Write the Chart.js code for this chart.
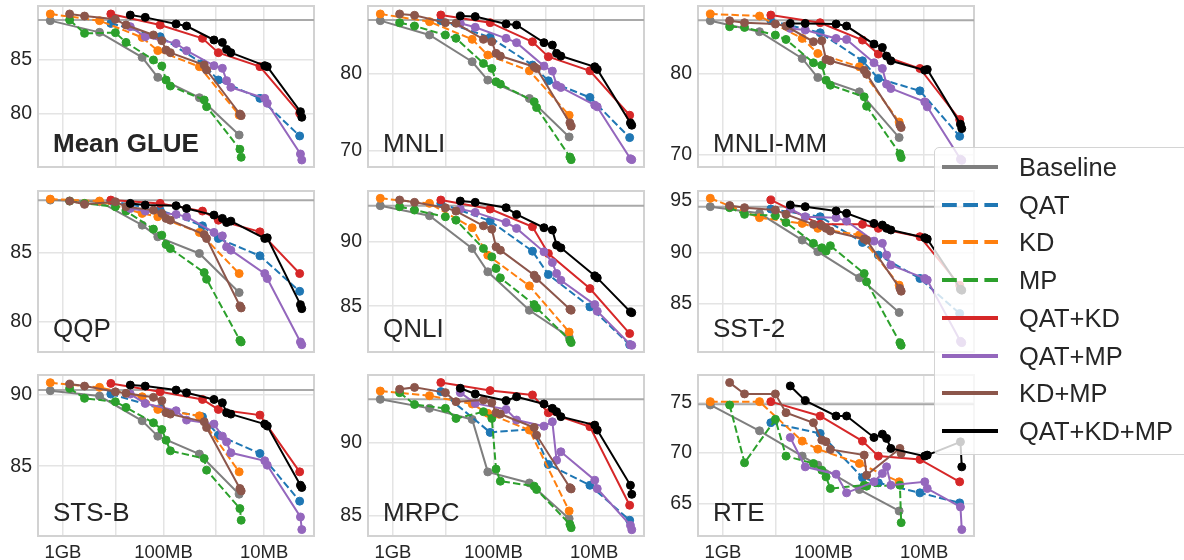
<!DOCTYPE html>
<html>
<head>
<meta charset="utf-8">
<script src="https://cdn.jsdelivr.net/npm/chart.js@4.4.1/dist/chart.umd.min.js"></script>
<style>
html,body{margin:0;padding:0;background:#fff;}
body{width:1184px;height:560px;overflow:hidden;position:relative;font-family:'Liberation Sans',Arial,sans-serif;}
.panel{position:absolute;}
#legend{position:absolute;left:934px;top:147px;width:280px;height:308px;box-sizing:border-box;border:1px solid #d4d4d4;border-radius:5px;background:rgba(255,255,255,0.8);}
.litem{position:absolute;left:0;height:30px;width:270px;}
.litem svg{position:absolute;left:7px;top:0;}
.litem span{position:absolute;left:84px;top:0;line-height:30px;font-size:25.5px;color:#262626;white-space:nowrap;font-family:'Liberation Sans',Arial,sans-serif;}
</style>
</head>
<body>
<div id="legend"></div>
<script>
// ---------------- data ----------------
const tasks = ['Mean GLUE','MNLI','MNLI-MM','QQP','QNLI','SST-2','STS-B','MRPC','RTE'];
const seriesNames = ['Baseline','QAT','KD','MP','QAT+KD','QAT+MP','KD+MP','QAT+KD+MP'];

// model sizes in MB
const xBaseline = [1336, 433, 163, 114, 44, 17.7];
const xQAT      = [334, 108, 41, 28.5, 11, 4.43];
const xKD       = [1336, 433, 163, 114, 44, 17.7];
const xMP       = [858, 610, 301, 236, 126, 104, 94.4, 85.5, 39.4, 37.3, 17.4, 16.9];
const xQATKD    = [334, 108, 41, 28.5, 11, 4.43];
const xQATMP    = [214, 152, 75, 59, 31.5, 26, 23.6, 21.4, 9.85, 9.3, 4.35, 4.22];
const xKDMP     = [858, 610, 301, 236, 126, 104, 94.4, 85.5, 39.4, 37.3, 17.4, 16.9];
const xQATKDMP  = [214, 152, 75, 59, 31.5, 26, 23.6, 21.4, 9.85, 9.3, 4.35, 4.22];

// full-model reference score per task
const refScores = [88.6, 86.9, 86.6, 88.8, 92.8, 94.45, 90.35, 92.96, 74.8];

// scores, one row per task (same order as tasks)
const baselineScores = [
  [88.54, 87.47, 85.18, 83.35, 81.49, 78.08],
  [86.81, 84.96, 81.51, 79.14, 76.77, 71.81],
  [86.53, 85.17, 81.86, 79.5, 77.73, 72.07],
  [88.81, 88.69, 86.99, 86.14, 84.93, 82.09],
  [92.8, 92.02, 89.48, 87.67, 84.69, 82.62],
  [94.45, 93.8, 91.2, 90.07, 87.53, 84.16],
  [90.31, 89.93, 88.19, 87.11, 85.85, 83.03],
  [92.96, 92.34, 91.58, 87.98, 87.22, 84.77],
  [74.74, 72.19, 69.69, 68.8, 66.39, 64.27]
];
const qatScores = [
  [88.29, 87.07, 84.63, 83.11, 81.43, 77.99],
  [86.81, 84.66, 81.08, 79.05, 76.9, 71.72],
  [86.53, 85.04, 81.57, 79.38, 77.85, 72.23],
  [88.74, 88.08, 86.94, 86.02, 84.76, 82.18],
  [92.98, 91.61, 89.27, 87.46, 84.95, 82.02],
  [94.22, 93.47, 90.97, 89.74, 87.47, 84.06],
  [90.07, 89.06, 88.47, 87.18, 85.89, 82.54],
  [93.49, 90.69, 90.92, 88.49, 87.06, 84.66],
  [72.99, 71.93, 67.57, 67.05, 66.06, 65.07]
];
const kdScores = [
  [89.15, 88.54, 87.0, 85.8, 84.33, 79.9],
  [87.67, 86.68, 84.4, 82.37, 80.34, 74.61],
  [87.36, 87.11, 84.34, 82.48, 80.83, 74.0],
  [88.88, 88.74, 87.84, 87.6, 86.46, 83.47],
  [93.37, 92.98, 91.09, 88.96, 86.58, 83.0],
  [95.26, 93.38, 92.82, 92.34, 91.69, 86.82],
  [90.87, 90.54, 89.88, 88.99, 88.54, 84.6],
  [93.53, 93.21, 92.64, 92.0, 90.85, 85.3],
  [75.07, 75.07, 71.17, 70.38, 68.96, 67.15]
];
const mpScores = [
  [88.6, 87.38, 87.44, 86.55, 84.94, 84.39, 83.11, 82.56, 81.28, 80.67, 76.77, 76.04],
  [86.55, 86.12, 84.96, 84.53, 81.29, 80.65, 78.92, 78.62, 76.34, 75.6, 69.22, 68.88],
  [85.79, 85.7, 84.75, 84.21, 81.32, 81.03, 79.17, 78.55, 77.11, 75.95, 70.08, 69.59],
  [88.74, 88.57, 88.33, 88.01, 86.7, 86.26, 85.58, 85.29, 83.54, 83.06, 78.62, 78.5],
  [92.72, 92.46, 91.94, 91.68, 89.48, 88.83, 87.93, 87.2, 85.13, 84.87, 82.36, 82.18],
  [94.35, 93.7, 93.57, 92.92, 90.88, 90.45, 90.13, 90.65, 87.95, 87.14, 81.23, 80.97],
  [90.47, 89.77, 89.53, 89.13, 88.05, 87.58, 86.83, 86.08, 85.54, 84.72, 82.02, 81.2],
  [93.42, 92.61, 92.34, 91.65, 92.11, 91.65, 88.17, 87.34, 87.0, 86.77, 84.38, 84.15],
  [74.74, 69.03, 73.32, 69.69, 68.96, 68.3, 67.64, 66.49, 66.82, 66.72, 66.82, 63.12]
];
const qatKdScores = [
  [89.15, 88.14, 86.92, 85.61, 84.33, 80.06],
  [87.54, 86.55, 84.09, 82.16, 80.34, 74.61],
  [87.23, 86.28, 84.13, 82.4, 80.62, 74.3],
  [88.81, 88.57, 88.01, 87.35, 86.5, 83.47],
  [93.24, 92.54, 91.17, 89.09, 86.37, 82.88],
  [95.1, 92.73, 92.73, 92.34, 91.53, 86.8],
  [90.82, 90.23, 89.69, 88.99, 88.59, 84.6],
  [94.11, 93.56, 93.26, 92.04, 91.08, 85.69],
  [75.07, 73.65, 71.17, 69.69, 69.36, 67.15]
];
const qatMpScores = [
  [87.99, 87.07, 86.46, 85.79, 84.42, 84.18, 83.05, 82.44, 81.43, 80.98, 76.34, 75.79],
  [86.47, 85.95, 84.53, 83.97, 80.95, 80.3, 78.49, 78.19, 75.91, 75.69, 69.0, 68.88],
  [85.58, 85.37, 84.34, 84.21, 81.32, 80.62, 78.68, 78.14, 76.49, 75.87, 69.4, 69.26],
  [88.2, 88.01, 87.77, 87.6, 86.46, 86.21, 85.41, 85.17, 83.47, 83.11, 78.5, 78.3],
  [92.54, 92.28, 91.5, 91.04, 89.22, 88.39, 87.54, 87.02, 85.13, 84.61, 82.02, 81.97],
  [94.22, 93.47, 93.38, 93.05, 91.1, 90.88, 89.74, 88.77, 87.47, 87.31, 81.36, 81.23],
  [90.07, 89.41, 88.9, 88.24, 87.96, 87.11, 86.71, 85.94, 85.38, 85.07, 81.43, 80.54],
  [93.42, 92.68, 92.27, 91.54, 91.12, 91.42, 88.78, 89.36, 87.41, 86.83, 84.31, 84.01],
  [71.53, 68.63, 67.9, 66.06, 67.15, 67.97, 68.63, 66.82, 67.15, 66.49, 64.67, 62.43]
];
const kdMpScores = [
  [89.15, 88.96, 88.66, 88.14, 87.23, 86.71, 85.85, 85.61, 84.48, 84.02, 80.0, 79.85],
  [87.67, 87.5, 86.55, 86.47, 84.4, 84.09, 82.59, 82.24, 80.86, 80.65, 73.62, 73.19],
  [86.53, 86.28, 86.12, 85.87, 83.93, 84.05, 81.74, 81.57, 80.41, 79.92, 73.6, 73.31],
  [88.74, 88.5, 88.69, 88.33, 88.08, 87.84, 87.48, 87.35, 86.31, 86.02, 81.12, 80.97],
  [93.24, 93.06, 92.64, 92.38, 91.24, 90.98, 89.61, 89.35, 87.41, 87.15, 84.77, 84.69],
  [94.55, 94.35, 94.12, 93.7, 92.73, 92.6, 92.34, 92.08, 91.3, 91.2, 86.5, 86.23],
  [90.77, 90.63, 90.23, 90.12, 89.84, 89.6, 88.76, 88.66, 88.12, 87.72, 83.43, 83.26],
  [93.65, 93.78, 93.42, 92.8, 92.91, 92.73, 92.04, 91.95, 91.03, 90.5, 86.9, 86.81],
  [76.95, 75.83, 75.83, 73.98, 72.99, 71.27, 71.11, 70.35, 69.79, 67.81, 70.45, 69.95]
];
const qatKdMpScores = [
  [89.05, 88.84, 88.23, 88.05, 86.77, 86.55, 85.91, 85.61, 84.42, 84.33, 80.21, 79.7],
  [87.41, 87.33, 86.38, 86.25, 83.97, 83.66, 82.59, 82.24, 80.86, 80.52, 73.62, 73.32],
  [86.2, 86.2, 86.12, 85.87, 83.64, 83.22, 82.15, 81.57, 80.41, 80.5, 73.72, 73.18],
  [88.57, 88.45, 88.4, 88.2, 87.72, 87.48, 87.18, 87.28, 86.02, 86.07, 81.21, 80.92],
  [93.16, 93.06, 92.64, 92.12, 91.09, 90.91, 89.74, 89.53, 87.36, 87.2, 84.56, 84.5],
  [94.61, 94.45, 94.03, 93.8, 92.82, 92.66, 92.34, 92.18, 91.43, 91.3, 86.43, 86.33],
  [90.7, 90.63, 90.35, 90.16, 89.69, 89.46, 88.76, 88.66, 87.96, 87.82, 83.66, 83.5],
  [93.72, 93.33, 92.87, 93.14, 92.64, 92.34, 92.11, 91.77, 91.19, 90.85, 87.06, 86.44],
  [76.62, 75.17, 73.65, 73.65, 71.53, 71.86, 71.44, 70.45, 69.69, 69.79, 71.1, 68.63]
];

// tick values
const xTickValues = [1000, 300, 100, 30, 10];
const xTickLabels = ['1GB', '', '100MB', '', '10MB'];
const yTickValues = [
  [80, 85], [70, 80], [70, 80], [80, 85], [85, 90], [85, 90, 95], [85, 90], [85, 90], [65, 70, 75]
];

// ---------------- styling / layout ----------------
const yRanges = [
  [75.15, 89.88], [67.93, 88.7], [68.43, 88.35], [77.77, 89.47], [81.45, 93.94],
  [80.32, 95.97], [80.09, 91.41], [83.58, 94.63], [61.8, 77.7]
];
const X_MIN = 3.19, X_MAX = 1770;
const seriesX = [xBaseline, xQAT, xKD, xMP, xQATKD, xQATMP, xKDMP, xQATKDMP];
const seriesY = [baselineScores, qatScores, kdScores, mpScores, qatKdScores, qatMpScores, kdMpScores, qatKdMpScores];
const seriesColor = ['#7f7f7f', '#1f77b4', '#ff7f0e', '#2ca02c', '#d62728', '#9467bd', '#8c564b', '#000000'];
const seriesDashed = [false, true, true, true, false, false, false, false];

const PLOT_W = 277, PLOT_H = 161, Y_AXIS_W = 38, X_AXIS_H = 30, PAD_TOP = 6, PAD_RIGHT = 4;
const colLeft = [38, 368, 698];
const rowTop = [6, 191, 375];
const TEXT = '#262626';
const FONT = "'Liberation Sans', Arial, sans-serif";

Chart.defaults.font.family = FONT;

const framePlugin = {
  id: 'frame',
  beforeDatasetsDraw(chart) {
    const a = chart.chartArea, ctx = chart.ctx;
    ctx.save();
    ctx.strokeStyle = '#d2d2d2';
    ctx.lineWidth = 2;
    ctx.strokeRect(a.left, a.top, a.right - a.left, a.bottom - a.top);
    ctx.restore();
  }
};
const titlePlugin = {
  id: 'panelTitle',
  afterDatasetsDraw(chart, args, opts) {
    const a = chart.chartArea, ctx = chart.ctx;
    ctx.save();
    ctx.font = (opts.bold ? 'bold ' : '') + '26px ' + FONT;
    ctx.fillStyle = TEXT;
    ctx.textBaseline = 'alphabetic';
    ctx.textAlign = 'left';
    ctx.fillText(opts.text, a.left + 15, a.bottom - 15.5);
    ctx.restore();
  }
};

function buildPanel(t) {
  const col = t % 3, row = Math.floor(t / 3);
  const canvas = document.createElement('canvas');
  const cw = Y_AXIS_W + PLOT_W + PAD_RIGHT, ch = PAD_TOP + PLOT_H + X_AXIS_H;
  canvas.width = cw; canvas.height = ch;
  canvas.className = 'panel';
  canvas.style.left = (colLeft[col] - Y_AXIS_W) + 'px';
  canvas.style.top = (rowTop[row] - PAD_TOP) + 'px';
  canvas.style.width = cw + 'px';
  canvas.style.height = ch + 'px';
  document.body.insertBefore(canvas, document.getElementById('legend'));

  const datasets = [{
    label: 'full',
    data: [{x: X_MAX, y: refScores[t]}, {x: X_MIN, y: refScores[t]}],
    borderColor: '#a9a9a9', borderWidth: 2, pointRadius: 0, pointHoverRadius: 0,
    order: 100, tension: 0, fill: false
  }];
  seriesNames.forEach((name, s) => {
    const xs = seriesX[s], ys = seriesY[s][t];
    datasets.push({
      label: name,
      data: xs.map((x, i) => ({x: x, y: ys[i]})),
      borderColor: seriesColor[s],
      backgroundColor: seriesColor[s],
      pointBackgroundColor: seriesColor[s],
      pointBorderColor: seriesColor[s],
      borderWidth: 2,
      borderDash: seriesDashed[s] ? [7.4, 3.2] : [],
      pointRadius: 4,
      pointBorderWidth: 1,
      pointHoverRadius: 4,
      tension: 0,
      fill: false,
      order: 8 - s
    });
  });

  new Chart(canvas, {
    type: 'line',
    data: {datasets},
    options: {
      responsive: false,
      animation: false,
      events: [],
      layout: {padding: {top: PAD_TOP, right: PAD_RIGHT, left: 0, bottom: 0}},
      plugins: {
        legend: {display: false},
        tooltip: {enabled: false},
        panelTitle: {text: tasks[t], bold: t === 0}
      },
      scales: {
        x: {
          type: 'logarithmic',
          reverse: true,
          min: X_MIN, max: X_MAX,
          afterBuildTicks: s => { s.ticks = xTickValues.map(v => ({value: v})); },
          afterFit: s => { s.height = X_AXIS_H; s.paddingLeft = 0; s.paddingRight = 0; s.paddingTop = 0; s.paddingBottom = 0; },
          ticks: {
            display: row === 2,
            autoSkip: false, maxRotation: 0, minRotation: 0,
            padding: 6, color: TEXT,
            font: {size: 18.5, family: FONT},
            callback: (v, i) => xTickLabels[i]
          },
          grid: {color: '#e4e4e4', lineWidth: 1.5, drawTicks: false},
          border: {display: false}
        },
        y: {
          type: 'linear',
          min: yRanges[t][0], max: yRanges[t][1],
          afterBuildTicks: s => { s.ticks = yTickValues[t].map(v => ({value: v})); },
          afterFit: s => { s.width = Y_AXIS_W; s.paddingTop = 0; s.paddingBottom = 0; s.paddingLeft = 0; s.paddingRight = 0; },
          ticks: {
            padding: 6, color: TEXT,
            font: {size: 19.5, family: FONT},
            callback: v => String(v)
          },
          grid: {color: '#e4e4e4', lineWidth: 1.5, drawTicks: false},
          border: {display: false}
        }
      }
    },
    plugins: [framePlugin, titlePlugin]
  });
}

tasks.forEach((_, t) => buildPanel(t));

// legend
const legend = document.getElementById('legend');
seriesNames.forEach((name, s) => {
  const item = document.createElement('div');
  item.className = 'litem';
  item.style.top = (20 + s * 37.7 - 15 - 1) + 'px';
  const dash = seriesDashed[s] ? ' stroke-dasharray="14.8 6.4"' : '';
  item.innerHTML = '<svg width="60" height="30"><line x1="0" y1="15" x2="56" y2="15" stroke="' + seriesColor[s] +
    '" stroke-width="4"' + dash + '/></svg><span>' + name + '</span>';
  legend.appendChild(item);
});
</script>
</body>
</html>
